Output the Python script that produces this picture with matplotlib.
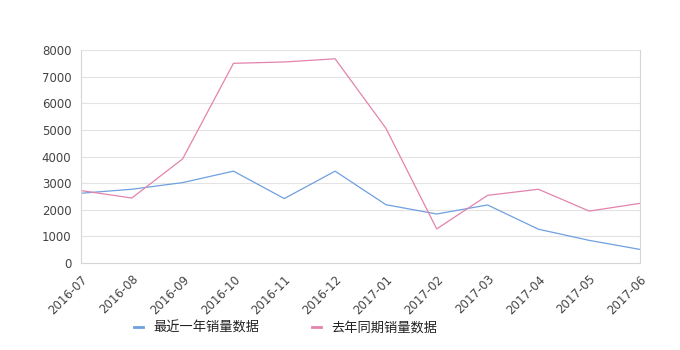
import matplotlib
matplotlib.use("Agg")
import matplotlib.pyplot as plt

plt.rcParams['font.family'] = ['Noto Sans CJK SC', 'DejaVu Sans']

months = ["2016-07", "2016-08", "2016-09", "2016-10", "2016-11", "2016-12",
          "2017-01", "2017-02", "2017-03", "2017-04", "2017-05", "2017-06"]
recent = [2620, 2770, 3020, 3450, 2420, 3450, 2190, 1840, 2180, 1270, 850, 510]
last_year = [2720, 2440, 3910, 7500, 7550, 7670, 5060, 1280, 2540, 2770, 1950, 2240]
yticks = [0, 1000, 2000, 3000, 4000, 5000, 6000, 7000, 8000]

fig = plt.figure(figsize=(6.8, 3.5), dpi=100)
ax = fig.add_axes([81/680, 1 - 263/350, (640-81)/680, (263-50)/350])

x = list(range(len(months)))
ax.plot(x, recent, color='#6fa0e0', lw=0.9, label='最近一年销量数据')
ax.plot(x, last_year, color='#e383ad', lw=0.9, label='去年同期销量数据')

ax.set_xlim(0, len(months) - 1)
ax.set_ylim(0, 8000)
ax.set_yticks(yticks)
ax.set_yticklabels([str(v) for v in yticks], family='DejaVu Sans')
ax.set_xticks(x)
ax.set_xticklabels(months, rotation=45, ha='right', rotation_mode='anchor',
                   family='DejaVu Sans')
ax.tick_params(axis='both', length=0, labelsize=8.5, colors='#444444', pad=7)
ax.grid(axis='y', color='#e3e3e3', lw=0.8)
ax.set_axisbelow(True)
for s in ['left', 'bottom', 'right']:
    ax.spines[s].set_color('#d6d6d6')
    ax.spines[s].set_linewidth(0.8)
ax.spines['top'].set_visible(False)

leg = fig.legend(loc='center', bbox_to_anchor=(0.42, 1 - 328/350), ncol=2,
                 frameon=False, fontsize=9.5, handlelength=0.7, columnspacing=4.0,
                 handletextpad=0.75)
for t in leg.get_texts():
    t.set_color('#222222')
for h in leg.legend_handles:
    h.set_linewidth(2)

fig.savefig('out.png', dpi=100)
